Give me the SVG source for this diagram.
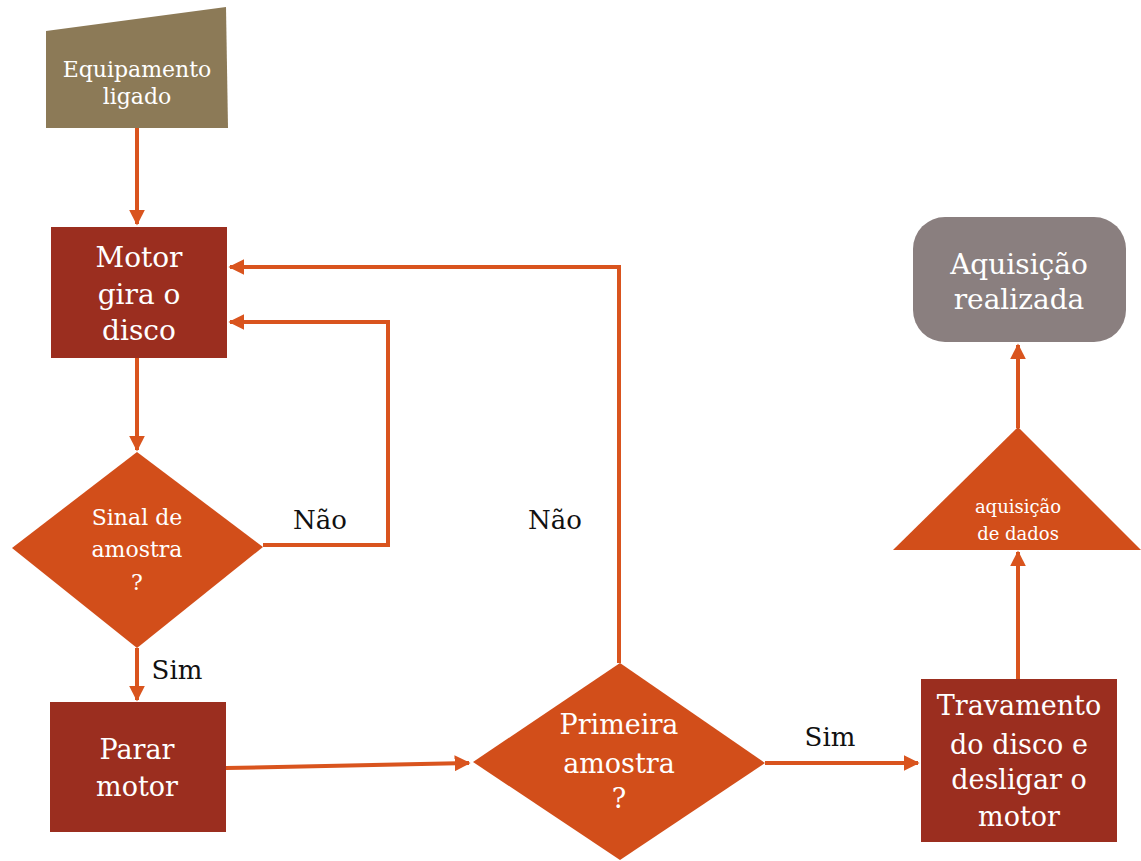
<svg xmlns="http://www.w3.org/2000/svg" width="1141" height="861" viewBox="0 0 1141 861">
<defs>
<marker id="ah" viewBox="0 0 10 10" refX="9" refY="5" markerWidth="4" markerHeight="4" orient="auto" markerUnits="strokeWidth">
<path d="M0,0 L10,5 L0,10 z" fill="#D9541E"/>
</marker>
</defs>
<style>
.conn{fill:none;stroke:#D9541E;stroke-width:4;}
.lbl{font-family:"DejaVu Serif","Liberation Serif",serif;fill:#ffffff;text-anchor:middle;}
.edge{font-family:"DejaVu Serif","Liberation Serif",serif;fill:#111111;font-size:26px;text-anchor:middle;}
.box{fill:#9B2E1F;}
.dia{fill:#D24E1A;}
</style>
<rect width="1141" height="861" fill="#ffffff"/>
<g id="connectors">
<path class="conn" d="M137,128 L137,224" marker-end="url(#ah)"/>
<path class="conn" d="M137,357 L137,450" marker-end="url(#ah)"/>
<path class="conn" d="M263,545 L388,545 L388,322 L230,322" marker-end="url(#ah)"/>
<path class="conn" d="M137,648 L137,700" marker-end="url(#ah)"/>
<path class="conn" d="M226,768 L469,763" marker-end="url(#ah)"/>
<path class="conn" d="M619,663 L619,267 L230,267" marker-end="url(#ah)"/>
<path class="conn" d="M765,763 L918,763" marker-end="url(#ah)"/>
<path class="conn" d="M1018,679 L1018,552" marker-end="url(#ah)"/>
<path class="conn" d="M1018,428 L1018,345" marker-end="url(#ah)"/>
<text class="edge" x="320" y="529">Não</text>
<text class="edge" x="555" y="529">Não</text>
<text class="edge" x="177" y="679">Sim</text>
<text class="edge" x="830" y="746">Sim</text>
</g>
<g id="n-equipamento">
<polygon points="46,31 226,7 228,128 46,128" fill="#8C7A57"/>
<text class="lbl" font-size="22" x="137" y="77">Equipamento</text>
<text class="lbl" font-size="22" x="137" y="104">ligado</text>
</g>
<g id="n-motor">
<rect class="box" x="51" y="227" width="176" height="131"/>
<text class="lbl" font-size="28" x="139" y="267">Motor</text>
<text class="lbl" font-size="28" x="139" y="304">gira o</text>
<text class="lbl" font-size="28" x="139" y="340">disco</text>
</g>
<g id="n-sinal">
<polygon class="dia" points="137,452 263,547 137,648 12,548"/>
<text class="lbl" font-size="22" x="137" y="525">Sinal de</text>
<text class="lbl" font-size="22" x="137" y="557">amostra</text>
<text class="lbl" font-size="22" x="137" y="590">?</text>
</g>
<g id="n-parar">
<rect class="box" x="50" y="702" width="176" height="130"/>
<text class="lbl" font-size="27" x="137" y="759">Parar</text>
<text class="lbl" font-size="27" x="137" y="796">motor</text>
</g>
<g id="n-primeira">
<polygon class="dia" points="620,663 765,763 620,860 473,762"/>
<text class="lbl" font-size="27" x="619" y="734">Primeira</text>
<text class="lbl" font-size="27" x="619" y="773">amostra</text>
<text class="lbl" font-size="27" x="619" y="808">?</text>
</g>
<g id="n-travamento">
<rect class="box" x="921" y="679" width="196" height="163"/>
<text class="lbl" font-size="27" x="1019" y="715">Travamento</text>
<text class="lbl" font-size="27" x="1019" y="754">do disco e</text>
<text class="lbl" font-size="27" x="1019" y="789">desligar o</text>
<text class="lbl" font-size="27" x="1019" y="826">motor</text>
</g>
<g id="n-aquisicao-dados">
<polygon class="dia" points="1018,427 1141,550 893,550"/>
<text class="lbl" font-size="18" x="1018" y="513">aquisição</text>
<text class="lbl" font-size="18" x="1018" y="540">de dados</text>
</g>
<g id="n-aquisicao-realizada">
<rect x="913" y="217" width="213" height="125" rx="32" ry="32" fill="#8A7F7F"/>
<text class="lbl" font-size="28" x="1019" y="274">Aquisição</text>
<text class="lbl" font-size="28" x="1019" y="309">realizada</text>
</g>
</svg>
